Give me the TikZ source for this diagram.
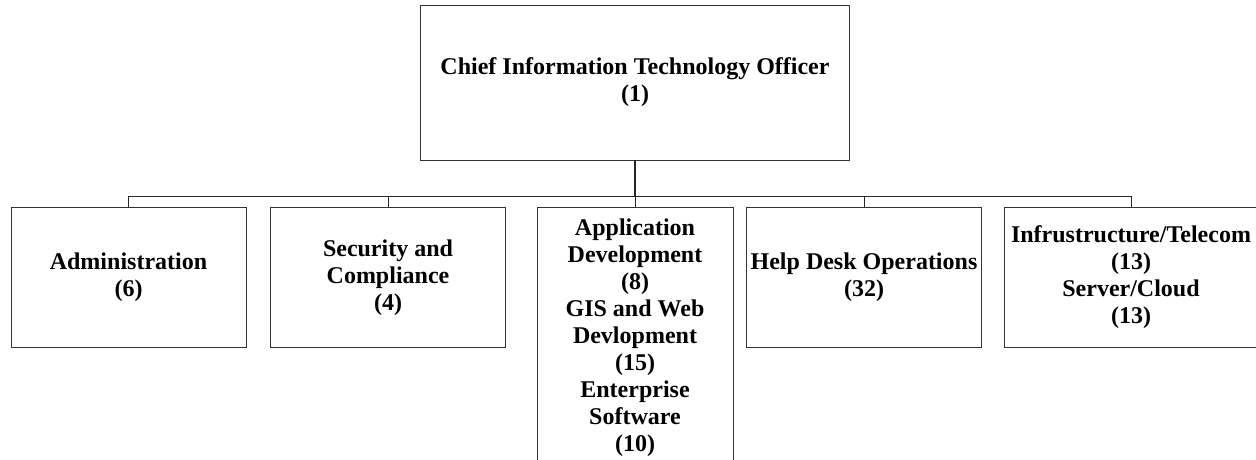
\documentclass[tikz,border=0pt]{standalone}
\usepackage{fontspec}
\setmainfont{Liberation Serif}
\begin{document}
\begin{tikzpicture}[x=1pt,y=-1pt,
  unit/.style={draw=black!80,line width=0.9pt,align=center,inner sep=2pt,
    font=\bfseries\fontsize{24}{27}\selectfont},
  link/.style={draw=black!85,line width=0.9pt}]
  \useasboundingbox (0,0) rectangle (1256,460);
  \node[unit,minimum width=429pt,minimum height=155pt] (cito) at (635,82.5)
    {Chief Information Technology Officer\\(1)};
  \node[unit,minimum width=235pt,minimum height=140pt] (admin) at (128.5,277.5)
    {Administration\\(6)};
  \node[unit,minimum width=235pt,minimum height=140pt] (secur) at (388,277.5)
    {Security and\\Compliance\\(4)};
  \node[unit,minimum width=196pt,minimum height=262pt] (appdev) at (635,338)
    {Application\\Development\\(8)\\GIS and Web\\Devlopment\\(15)\\Enterprise\\Software\\(10)};
  \node[unit,minimum width=235pt,minimum height=140pt] (helpdesk) at (864,277.5)
    {Help Desk Operations\\(32)};
  \node[unit,minimum width=254pt,minimum height=140pt] (infra) at (1131,277.5)
    {Infrustructure/Telecom\\(13)\\Server/Cloud\\(13)};
  \coordinate (bus) at (cito.south |- 0,196);
  \draw[link,line width=2pt] (cito.south) -- (bus);
  \draw[link] (bus -| admin.north) -- (bus -| infra.north);
  \foreach \n in {admin,secur,appdev,helpdesk,infra}
    \draw[link] (bus -| \n.north) -- (\n.north);
\end{tikzpicture}
\end{document}
